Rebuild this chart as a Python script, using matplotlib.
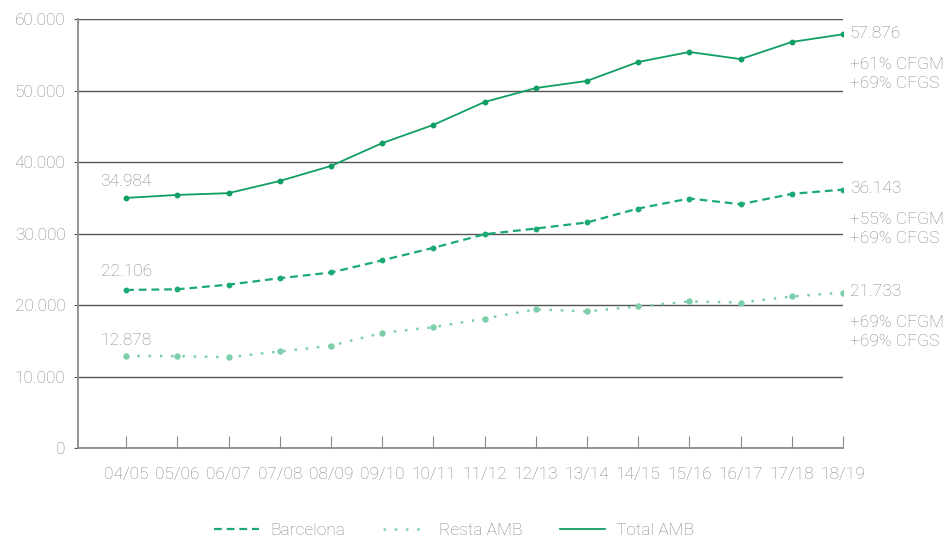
import matplotlib
matplotlib.use("Agg")
import matplotlib.pyplot as plt
from matplotlib.lines import Line2D

plt.rcParams['font.family'] = ['Roboto', 'DejaVu Sans']
plt.rcParams['font.weight'] = 'light'

years = ["04/05", "05/06", "06/07", "07/08", "08/09", "09/10", "10/11", "11/12",
         "12/13", "13/14", "14/15", "15/16", "16/17", "17/18", "18/19"]

total_amb = [34984, 35400, 35650, 37350, 39450, 42650, 45200, 48400,
             50350, 51350, 54000, 55400, 54400, 56800, 57876]
barcelona = [22106, 22200, 22850, 23750, 24550, 26250, 28000, 29900,
             30700, 31550, 33500, 34900, 34100, 35550, 36143]
resta_amb = [12878, 12850, 12700, 13500, 14300, 16100, 16900, 18100,
             19400, 19100, 19800, 20500, 20350, 21200, 21733]

end_notes = [["+61% CFGM", "+69% CFGS"],
             ["+55% CFGM", "+69% CFGS"],
             ["+69% CFGM", "+69% CFGS"]]

c_total = "#0f9e63"
c_bcn = "#1caa74"
c_resta = "#7dcfab"
c_text = "#858585"
c_grid = "#555555"

bcn_ls = (0, (3.5, 2.2))
resta_ls = (0, (1, 3.5))

fig = plt.figure(figsize=(9.5, 5.45), dpi=100)
ax = fig.add_axes([0.0821, 0.178, 0.8053, 0.787])

x = list(range(len(years)))
ax.plot(x, barcelona, color=c_bcn, lw=1.6, ls=bcn_ls, marker="o", ms=3.2, zorder=3)
ax.plot(x, resta_amb, color=c_resta, lw=1.8, ls=resta_ls, marker="o", ms=3.6, zorder=3)
ax.plot(x, total_amb, color=c_total, lw=1.3, marker="o", ms=3.2, zorder=3)

ax.set_xlim(-0.94, 14)
ax.set_ylim(0, 60000)
ax.set_yticks(range(0, 60001, 10000))
ax.set_yticklabels(["0"] + ["{:d}.000".format(v) for v in range(10, 61, 10)])
ax.set_xticks(x)
ax.set_xticklabels(years)

ax.grid(axis="y", color=c_grid, lw=1)
ax.set_axisbelow(True)
for s in ["top", "right"]:
    ax.spines[s].set_visible(False)
ax.spines["left"].set_color("#8a8a8a")
ax.spines["bottom"].set_color("#8a8a8a")
ax.spines["left"].set_linewidth(1.3)
ax.spines["bottom"].set_linewidth(1.3)
ax.tick_params(axis="x", direction="in", length=9, color="#8a8a8a",
               labelsize=12.5, labelcolor=c_text, pad=14)
ax.tick_params(axis="y", length=3, color=c_grid, labelsize=12.5,
               labelcolor=c_text, pad=6)

# start labels
for series, dy in [(total_amb, 2300), (barcelona, 2600), (resta_amb, 2100)]:
    ax.text(-0.5, series[0] + dy, "{:.3f}".format(series[0] / 1000),
            fontsize=12.5, color=c_text, ha="left", va="center")

# end labels and growth notes
for series, notes in zip([total_amb, barcelona, resta_amb], end_notes):
    ax.text(14.13, series[-1] + 150, "{:.3f}".format(series[-1] / 1000),
            fontsize=12.5, color=c_text, ha="left", va="center", clip_on=False)
    ax.text(14.13, series[-1] - 4200, notes[0], fontsize=12.5, color=c_text,
            ha="left", va="center", clip_on=False)
    ax.text(14.13, series[-1] - 6850, notes[1], fontsize=12.5, color=c_text,
            ha="left", va="center", clip_on=False)

handles = [Line2D([], [], color=c_bcn, lw=1.6, ls=bcn_ls),
           Line2D([], [], color=c_resta, lw=1.8, ls=resta_ls),
           Line2D([], [], color=c_total, lw=1.3)]
leg = fig.legend(handles, ["Barcelona", "Resta AMB", "Total AMB"], loc="center",
                 bbox_to_anchor=(0.478, 0.027), ncol=3, frameon=False,
                 fontsize=12.5, handlelength=2.6, columnspacing=2.2, handletextpad=0.6)
for t in leg.get_texts():
    t.set_color(c_text)

fig.savefig("out.png", dpi=100)
